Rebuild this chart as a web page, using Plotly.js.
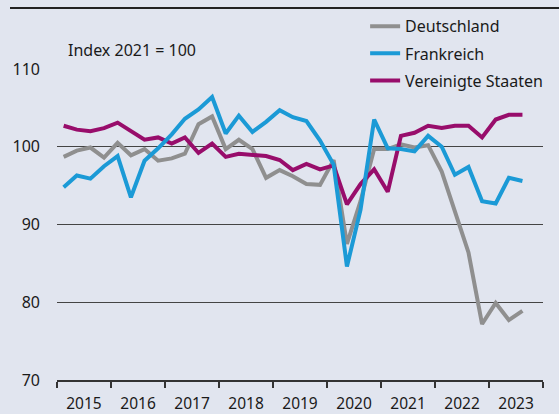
<!DOCTYPE html>
<html>
<head>
<meta charset="utf-8">
<script src="https://cdn.plot.ly/plotly-3.0.1.min.js"></script>
<style>
  html, body { margin: 0; padding: 0; background: #e1e5ef; }
  #chart { width: 559px; height: 414px; }
</style>
</head>
<body>
<div id="chart"></div>
<script>
// Quarters 2015 Q1 .. 2023 Q3
const quarters = [
  '2015 Q1','2015 Q2','2015 Q3','2015 Q4',
  '2016 Q1','2016 Q2','2016 Q3','2016 Q4',
  '2017 Q1','2017 Q2','2017 Q3','2017 Q4',
  '2018 Q1','2018 Q2','2018 Q3','2018 Q4',
  '2019 Q1','2019 Q2','2019 Q3','2019 Q4',
  '2020 Q1','2020 Q2','2020 Q3','2020 Q4',
  '2021 Q1','2021 Q2','2021 Q3','2021 Q4',
  '2022 Q1','2022 Q2','2022 Q3','2022 Q4',
  '2023 Q1','2023 Q2','2023 Q3'
];

const deutschland = [98.7, 99.5, 99.9, 98.6, 100.5, 98.9, 99.7, 98.2, 98.5, 99.1,
  102.9, 103.9, 99.7, 100.9, 99.7, 96.0, 97.0, 96.2, 95.2, 95.1,
  98.3, 87.5, 93.0, 99.7, 99.7, 100.3, 99.9, 100.2, 96.8, 91.5,
  86.4, 77.2, 79.9, 77.7, 78.9];

const frankreich = [94.8, 96.3, 95.9, 97.5, 98.8, 93.5, 98.2, 99.8, 101.6, 103.6,
  104.8, 106.4, 101.7, 104.0, 101.9, 103.2, 104.7, 103.8, 103.3, 100.8,
  97.7, 84.6, 91.9, 103.5, 99.8, 99.7, 99.4, 101.4, 100.0, 96.4,
  97.4, 93.0, 92.7, 96.0, 95.6];

const usa = [102.7, 102.2, 102.0, 102.4, 103.1, 102.0, 100.9, 101.2, 100.4, 101.2,
  99.2, 100.4, 98.7, 99.1, 99.0, 98.8, 98.3, 97.0, 97.8, 97.1,
  97.6, 92.6, 95.2, 97.1, 94.2, 101.4, 101.8, 102.7, 102.4, 102.7,
  102.7, 101.2, 103.5, 104.1, 104.1];

const seriesNames = ['Deutschland', 'Frankreich', 'Vereinigte Staaten'];
const yTicks = [70, 80, 90, 100, 110];
const noteText = 'Index 2021 = 100';

// mid-quarter date for each quarter label
function quarterMid(label) {
  const parts = label.split(' Q');
  const y = parts[0];
  const q = parseInt(parts[1], 10);
  const m = 3 * q - 1;
  return y + '-' + (m < 10 ? '0' + m : m) + '-15';
}
const xDates = quarters.map(quarterMid);

const BG = '#e1e5ef';
const FONT = '"Noto Sans", "Open Sans", sans-serif';
const TXT = '#1a1a1a';

const traces = [
  {x: xDates, y: deutschland, name: seriesNames[0], type: 'scatter', mode: 'lines',
   line: {color: '#8f8f8f', width: 4}, legendrank: 1, legendgroup: 'g1'},
  {x: xDates, y: usa, name: seriesNames[2], type: 'scatter', mode: 'lines',
   line: {color: '#980d6b', width: 4}, legendrank: 3, legendgroup: 'g3'},
  {x: xDates, y: frankreich, name: seriesNames[1], type: 'scatter', mode: 'lines',
   line: {color: '#1b9ad6', width: 4}, legendrank: 2, legendgroup: 'g2'}
];

const layout = {
  width: 559, height: 414,
  margin: {l: 57, r: 16, t: 69, b: 34, autoexpand: false},
  paper_bgcolor: BG, plot_bgcolor: BG,
  font: {family: FONT, size: 16, color: TXT},
  showlegend: true,
  legend: {
    x: 0.634, xanchor: 'left', y: 1.192, yanchor: 'top',
    bgcolor: 'rgba(0,0,0,0)', borderwidth: 0, font: {family: FONT, size: 16, color: TXT},
    traceorder: 'grouped', tracegroupgap: 3.3, itemwidth: 30
  },
  xaxis: {
    type: 'date',
    range: ['2015-01-01', '2024-01-01'],
    tick0: '2015-01-01', dtick: 'M12', tickformat: '%Y',
    ticklabelmode: 'period',
    ticks: 'outside', ticklen: 6, tickwidth: 1.5, tickcolor: '#333',
    ticklabelstandoff: 3,
    showline: true, linecolor: '#333', linewidth: 1.5,
    showgrid: false, zeroline: false, fixedrange: true,
    tickfont: {family: FONT, size: 15.5, color: TXT}
  },
  yaxis: {
    range: [70, 110], tickvals: yTicks, ticktext: yTicks.map(String),
    showgrid: true, gridcolor: '#444', gridwidth: 1,
    zeroline: false, showline: false, ticks: '',
    ticklabelstandoff: 16, fixedrange: true,
    tickfont: {family: FONT, size: 16, color: TXT}
  },
  shapes: [
    {type: 'line', xref: 'paper', yref: 'paper', x0: -0.0967, x1: 1.04, y0: 1.196, y1: 1.196,
     line: {color: '#222', width: 2}},
    {type: 'rect', xref: 'paper', yref: 'paper', x0: 0.613, x1: 1.01, y0: 0.99, y1: 1.01,
     fillcolor: BG, line: {width: 0}, layer: 'between'}
  ],
  annotations: [
    {text: noteText, xref: 'paper', yref: 'paper', x: 0.0185, y: 1.0627,
     xanchor: 'left', yanchor: 'middle', showarrow: false,
     font: {family: FONT, size: 16, color: TXT}}
  ]
};

Plotly.newPlot('chart', traces, layout, {displayModeBar: false, staticPlot: true});
</script>
</body>
</html>
